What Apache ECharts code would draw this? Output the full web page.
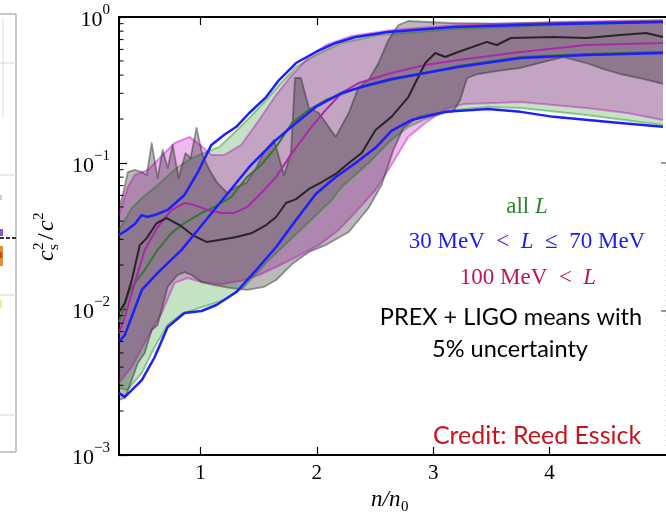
<!DOCTYPE html>
<html><head><meta charset="utf-8">
<script src="https://cdn.jsdelivr.net/npm/echarts@6/dist/echarts.min.js"></script>
<style>html,body{margin:0;padding:0;background:#fff}#c{width:666px;height:519px}</style>
</head><body><div id="c"></div>
<script>
// ---- axes ----
const xMin = 0.3, xMax = 5.0;
const yMin = 0.001, yMax = 1;
const xTickLabels = [1, 2, 3, 4];
const yMinorTicks = [0.002,0.003,0.004,0.005,0.006,0.007,0.008,0.009,
                     0.02,0.03,0.04,0.05,0.06,0.07,0.08,0.09,
                     0.2,0.3,0.4,0.5,0.6,0.7,0.8,0.9];

// ---- all L (green) ----
const greenUpper = [[0.3,0.0348],[0.41,0.0492],[0.496,0.0576],[0.632,0.0707],[0.795,0.0924],[0.923,0.108],[1.034,0.117],[1.162,0.129],[1.308,0.166],[1.436,0.21],[1.564,0.27],[1.692,0.353],[1.821,0.455],[1.991,0.549],[2.214,0.664],[2.53,0.753],[3.179,0.828],[4.034,0.881],[4.974,0.924]];
const greenMedian = [[0.3,0.00815],[0.393,0.0135],[0.521,0.0185],[0.632,0.0254],[0.752,0.0332],[0.863,0.0388],[1.009,0.0455],[1.12,0.05],[1.265,0.0585],[1.402,0.0802],[1.521,0.0969],[1.65,0.129],[1.786,0.188],[1.932,0.231],[2.077,0.27],[2.359,0.327],[2.641,0.37],[2.932,0.413],[3.214,0.462],[3.752,0.532],[4.316,0.558],[4.974,0.576]];
const greenLower = [[0.3,0.00288],[0.376,0.00279],[0.496,0.00365],[0.607,0.0055],[0.718,0.00777],[0.838,0.00925],[0.991,0.01016],[1.205,0.01153],[1.376,0.01416],[1.564,0.0207],[1.786,0.0306],[1.932,0.0394],[2.128,0.0558],[2.214,0.0685],[2.444,0.1],[2.641,0.144],[2.786,0.177],[2.932,0.2],[3.179,0.231],[3.47,0.242],[3.752,0.238],[4.316,0.213],[4.974,0.182]];

// ---- 30 MeV < L <= 70 MeV (blue) ----
const blueUpper = [[0.3,0.0321],[0.368,0.0348],[0.436,0.0382],[0.496,0.044],[0.538,0.0427],[0.607,0.044],[0.718,0.0477],[0.863,0.0604],[0.974,0.0855],[1.094,0.133],[1.205,0.156],[1.308,0.177],[1.419,0.22],[1.564,0.283],[1.675,0.37],[1.821,0.484],[1.991,0.576],[2.162,0.664],[2.333,0.73],[2.615,0.789],[3.179,0.855],[4.034,0.895],[4.974,0.924]];
const blueMedian = [[0.3,0.00594],[0.35,0.00664],[0.496,0.0135],[0.632,0.0177],[0.838,0.0254],[0.991,0.0359],[1.188,0.0558],[1.419,0.0939],[1.521,0.1135],[1.65,0.144],[1.821,0.188],[1.991,0.242],[2.214,0.302],[2.444,0.342],[2.641,0.376],[2.932,0.413],[3.214,0.455],[3.752,0.524],[4.316,0.549],[4.974,0.567]];
const blueLower = [[0.3,0.00266],[0.35,0.0025],[0.496,0.00326],[0.607,0.00469],[0.718,0.00753],[0.863,0.00939],[1.009,0.00969],[1.137,0.01065],[1.308,0.01306],[1.479,0.0185],[1.65,0.0266],[1.821,0.0407],[1.991,0.0613],[2.162,0.0802],[2.333,0.1],[2.504,0.127],[2.641,0.166],[2.812,0.197],[3.103,0.224],[3.47,0.234],[3.752,0.224],[4.034,0.207],[4.607,0.188],[4.974,0.177]];

// ---- 100 MeV < L (magenta) ----
const magentaUpper = [[0.3,0.044],[0.376,0.0685],[0.436,0.0827],[0.547,0.0896],[0.692,0.117],[0.778,0.137],[0.906,0.151],[1.017,0.129],[1.094,0.1135],[1.205,0.1135],[1.35,0.133],[1.504,0.197],[1.65,0.292],[1.786,0.401],[1.932,0.532],[2.077,0.643],[2.299,0.741],[2.641,0.815],[3.214,0.881],[4.034,0.924],[4.974,0.954]];
const magentaMedian = [[0.3,0.00685],[0.35,0.00881],[0.436,0.0151],[0.521,0.0254],[0.632,0.0364],[0.752,0.0477],[0.863,0.0532],[0.949,0.0515],[1.06,0.0477],[1.179,0.0455],[1.291,0.0455],[1.402,0.05],[1.547,0.0653],[1.65,0.0802],[1.786,0.117],[1.932,0.168],[2.077,0.231],[2.214,0.302],[2.359,0.353],[2.641,0.413],[2.932,0.469],[3.214,0.508],[3.752,0.576],[4.316,0.643],[4.974,0.664]];
const magentaLower = [[0.3,0.00311],[0.41,0.00401],[0.547,0.00643],[0.667,0.00939],[0.778,0.0151],[0.889,0.0163],[1.009,0.0153],[1.179,0.0148],[1.35,0.0156],[1.504,0.0171],[1.65,0.0194],[1.821,0.0227],[2.017,0.0274],[2.188,0.0348],[2.333,0.0461],[2.504,0.0653],[2.641,0.0969],[2.786,0.151],[2.932,0.188],[3.103,0.234],[3.265,0.254],[3.752,0.262],[4.316,0.238],[4.667,0.22],[4.974,0.197]];

// ---- PREX + LIGO (gray / black) ----
const grayUpper = [[0.3,0.05],[0.333,0.0604],[0.376,0.0867],[0.436,0.0896],[0.496,0.0867],[0.538,0.0827],[0.581,0.137],[0.632,0.0789],[0.675,0.123],[0.718,0.0924],[0.761,0.133],[0.812,0.0789],[0.872,0.117],[0.915,0.108],[0.966,0.174],[1.017,0.1135],[1.077,0.0896],[1.145,0.073],[1.231,0.0623],[1.308,0.0685],[1.393,0.073],[1.479,0.0924],[1.547,0.119],[1.632,0.144],[1.718,0.0827],[1.778,0.117],[1.812,0.382],[1.863,0.382],[1.932,0.238],[2.017,0.22],[2.162,0.151],[2.274,0.22],[2.359,0.332],[2.444,0.37],[2.53,0.484],[2.615,0.696],[2.701,0.881],[2.786,0.939],[2.957,0.924],[3.154,0.91],[3.556,0.9],[4.034,0.915],[4.974,0.945]];
const grayMedian = [[0.3,0.00953],[0.35,0.011],[0.41,0.0158],[0.479,0.0274],[0.538,0.0306],[0.624,0.0388],[0.709,0.042],[0.821,0.0376],[0.932,0.0321],[1.051,0.0288],[1.162,0.0297],[1.308,0.0311],[1.444,0.0332],[1.564,0.0376],[1.65,0.0427],[1.735,0.0532],[1.821,0.0566],[1.932,0.0664],[2.043,0.0741],[2.162,0.0841],[2.274,0.1],[2.385,0.117],[2.504,0.168],[2.641,0.207],[2.786,0.283],[2.932,0.484],[3.017,0.567],[3.103,0.532],[3.214,0.576],[3.462,0.675],[3.547,0.643],[3.667,0.718],[4.034,0.73],[4.316,0.718],[4.607,0.753],[4.829,0.777],[4.974,0.73]];
const grayLower = [[0.3,0.00238],[0.35,0.00246],[0.41,0.00326],[0.462,0.00427],[0.521,0.005],[0.581,0.00718],[0.632,0.00777],[0.718,0.0142],[0.803,0.0171],[0.863,0.0179],[0.923,0.0171],[1.009,0.0153],[1.12,0.0146],[1.265,0.0139],[1.402,0.0135],[1.547,0.0142],[1.65,0.0158],[1.786,0.0203],[1.932,0.0246],[2.077,0.0274],[2.274,0.0337],[2.444,0.0492],[2.556,0.0707],[2.658,0.123],[2.744,0.174],[2.872,0.207],[3.043,0.22],[3.171,0.224],[3.231,0.27],[3.291,0.382],[3.385,0.407],[3.556,0.427],[3.752,0.448],[3.949,0.492],[4.12,0.532],[4.316,0.484],[4.462,0.44],[4.607,0.407],[4.812,0.376],[4.974,0.348]];

// ---- annotations ----
const labelAllL = ['all ', 'L'];
const labelBlue = ['30 MeV  <  ', 'L', '  ≤  70 MeV'];
const labelMag = ['100 MeV  <  ', 'L'];
const noteLines = ['PREX + LIGO means with', '5% uncertainty'];
const creditText = 'Credit: Reed Essick';

const SERIF = '"Liberation Serif", "DejaVu Serif", serif';

function band(upper, lower, fill, z) {
  return {
    type: 'custom', coordinateSystem: 'cartesian2d', silent: true, z: z,
    data: [[upper[0][0], upper[0][1]]],
    renderItem: function (params, api) {
      const pts = upper.map(p => api.coord(p)).concat(lower.slice().reverse().map(p => api.coord(p)));
      return { type: 'polygon', shape: { points: pts }, style: { fill: fill, stroke: null } };
    }
  };
}
function line(data, color, width, z) {
  return { type: 'line', data: data, symbol: 'none', showSymbol: false, smooth: false, silent: true,
           lineStyle: { color: color, width: width, join: 'round' }, z: z };
}

const chart = echarts.init(document.getElementById('c'), null, { renderer: 'canvas' });

const axisLineStyle = { color: '#000', width: 2 };
const option = {
  animation: false,
  backgroundColor: '#fff',
  grid: { left: 119, right: -3, top: 17, bottom: 64, containLabel: false },
  xAxis: [
    { type: 'value', min: xMin, max: xMax, position: 'bottom',
      axisLine: { onZero: false, lineStyle: axisLineStyle },
      axisTick: { inside: true, length: 8, lineStyle: { color: '#000', width: 1.2 } },
      splitLine: { show: false },
      axisLabel: { margin: 8, color: '#000', fontFamily: SERIF, fontSize: 21, showMinLabel: false, showMaxLabel: false,
        formatter: v => xTickLabels.indexOf(v) >= 0 ? String(v) : '' } },
    { type: 'value', min: xMin, max: xMax, position: 'top',
      axisLine: { onZero: false, lineStyle: axisLineStyle },
      axisTick: { inside: true, length: 8, lineStyle: { color: '#000', width: 1.2 } },
      splitLine: { show: false }, axisLabel: { show: false } }
  ],
  yAxis: {
    type: 'log', logBase: 10, min: yMin, max: yMax,
    axisLine: { onZero: false, lineStyle: axisLineStyle },
    axisTick: { inside: true, length: 8, lineStyle: { color: '#000', width: 1.2 } },
    splitLine: { show: false },
    axisLabel: {
      margin: 9, color: '#000',
      formatter: v => { const e = Math.round(Math.log10(v)); return '{b|10}{s|' + (e < 0 ? '\u2212' + (-e) : e) + '}'; },
      rich: {
        b: { fontFamily: SERIF, fontSize: 22, lineHeight: 29, verticalAlign: 'bottom', color: '#000' },
        s: { fontFamily: SERIF, fontSize: 15, lineHeight: 15, verticalAlign: 'top', color: '#000' }
      }
    }
  },
  series: [
    band(greenUpper, greenLower, 'rgba(0,128,0,0.23)', 2),
    band(magentaUpper, magentaLower, 'rgba(191,0,191,0.27)', 3),
    band(grayUpper, grayLower, 'rgba(0,0,0,0.27)', 4),
    line(greenUpper, 'rgba(0,128,0,0.38)', 2, 5),
    line(greenLower, 'rgba(0,128,0,0.38)', 2, 5),
    line(magentaUpper, 'rgba(191,0,191,0.4)', 2, 5),
    line(magentaLower, 'rgba(191,0,191,0.4)', 2, 5),
    line(grayUpper, 'rgba(40,40,40,0.45)', 1.8, 5),
    line(grayLower, 'rgba(40,40,40,0.45)', 1.8, 5),
    line(greenMedian, 'rgb(50,120,50)', 2, 6),
    line(magentaMedian, 'rgb(170,40,170)', 2, 6),
    line(grayMedian, 'rgb(40,35,40)', 2, 6),
    line(blueUpper, 'rgb(30,30,255)', 2.5, 7),
    line(blueMedian, 'rgb(30,30,255)', 2.5, 7),
    line(blueLower, 'rgb(30,30,255)', 2.5, 7),
    { type: 'custom', coordinateSystem: 'cartesian2d', silent: true, z: 8,
      data: yMinorTicks.map(v => [xMin, v]),
      renderItem: function (params, api) {
        const p = api.coord([api.value(0), api.value(1)]);
        return { type: 'line', shape: { x1: p[0], y1: p[1], x2: p[0] + 4.5, y2: p[1] }, style: { stroke: '#000', lineWidth: 1 } };
      } }
  ],
  graphic: [
    // neighbouring panel fragment on the left
    { type: 'line', shape: { x1: 16, y1: 14, x2: 16, y2: 452 }, style: { stroke: '#b4b4b4', lineWidth: 1.5 } },
    { type: 'line', shape: { x1: 0, y1: 14, x2: 16, y2: 14 }, style: { stroke: '#b4b4b4', lineWidth: 1.5 } },
    { type: 'line', shape: { x1: 0, y1: 452, x2: 16, y2: 452 }, style: { stroke: '#b4b4b4', lineWidth: 1.5 } },
    { type: 'line', shape: { x1: 0, y1: 63, x2: 16, y2: 63 }, style: { stroke: '#d4d4d4', lineWidth: 1 } },
    { type: 'line', shape: { x1: 0, y1: 175, x2: 16, y2: 175 }, style: { stroke: '#d4d4d4', lineWidth: 1 } },
    { type: 'line', shape: { x1: 0, y1: 295, x2: 16, y2: 295 }, style: { stroke: '#d4d4d4', lineWidth: 1 } },
    { type: 'line', shape: { x1: 0, y1: 415, x2: 16, y2: 415 }, style: { stroke: '#d4d4d4', lineWidth: 1 } },
    { type: 'line', shape: { x1: 3, y1: 18, x2: 3, y2: 118 }, style: { stroke: '#dddddd', lineWidth: 1 } },
    { type: 'line', shape: { x1: 0, y1: 238, x2: 16, y2: 238 }, style: { stroke: '#333', lineWidth: 2, lineDash: [4, 2] } },
    { type: 'rect', shape: { x: 0, y: 195, width: 2, height: 5 }, style: { fill: '#e8b8e8' } },
    { type: 'rect', shape: { x: 0, y: 229, width: 3, height: 7 }, style: { fill: '#8a5ac8' } },
    { type: 'rect', shape: { x: 0, y: 246, width: 3, height: 20 }, style: { fill: '#e0902a' } },
    { type: 'rect', shape: { x: 0, y: 252, width: 2, height: 6 }, style: { fill: '#c84030' } },
    { type: 'rect', shape: { x: 0, y: 300, width: 2, height: 8 }, style: { fill: '#f0e8a0' } },
    // neighbouring panel fragment on the right
    { type: 'line', shape: { x1: 665, y1: 165, x2: 665, y2: 450 }, style: { stroke: '#d0d0d0', lineWidth: 1, lineDash: [1, 4] } },
    { type: 'line', shape: { x1: 661, y1: 163, x2: 666, y2: 163 }, style: { stroke: '#555', lineWidth: 1.2 } },
    { type: 'line', shape: { x1: 661, y1: 311, x2: 666, y2: 311 }, style: { stroke: '#555', lineWidth: 1.2 } },
    // y axis title c_s^2 / c^2 (rotated)
    { type: 'group', x: 47, y: 236, rotation: Math.PI / 2, children: [
      { type: 'text', style: { text: 'c', x: -25, y: 0, font: 'italic 24px ' + SERIF, fill: '#000', align: 'left', verticalAlign: 'middle' } },
      { type: 'text', style: { text: '2', x: -14, y: -8, font: '15px ' + SERIF, fill: '#000', align: 'left', verticalAlign: 'middle' } },
      { type: 'text', style: { text: 's', x: -14, y: 7, font: '15px ' + SERIF, fill: '#000', align: 'left', verticalAlign: 'middle' } },
      { type: 'text', style: { text: '/', x: -4, y: 0, font: '24px ' + SERIF, fill: '#000', align: 'left', verticalAlign: 'middle' } },
      { type: 'text', style: { text: 'c', x: 5, y: 0, font: 'italic 24px ' + SERIF, fill: '#000', align: 'left', verticalAlign: 'middle' } },
      { type: 'text', style: { text: '2', x: 16, y: -8, font: '15px ' + SERIF, fill: '#000', align: 'left', verticalAlign: 'middle' } }
    ] },
    // x axis title n/n_0
    { type: 'group', x: 393, y: 500, children: [
      { type: 'text', style: { text: 'n/n', x: -22, y: 0, font: 'italic 23px ' + SERIF, fill: '#000', align: 'left', verticalAlign: 'middle' } },
      { type: 'text', style: { text: '0', x: 8, y: 7, font: '15px ' + SERIF, fill: '#000', align: 'left', verticalAlign: 'middle' } }
    ] },
    // legend-like annotations
    { type: 'text', style: { x: 527, y: 207, align: 'center', verticalAlign: 'middle',
      text: '{r|' + labelAllL[0] + '}{i|' + labelAllL[1] + '}',
      rich: { r: { fontFamily: SERIF, fontSize: 23, fill: '#2e862e' }, i: { fontFamily: SERIF, fontStyle: 'italic', fontSize: 23, fill: '#2e862e' } } } },
    { type: 'text', style: { x: 527, y: 242, align: 'center', verticalAlign: 'middle',
      text: '{r|' + labelBlue[0] + '}{i|' + labelBlue[1] + '}{r|' + labelBlue[2] + '}',
      rich: { r: { fontFamily: SERIF, fontSize: 23, fill: '#1a1aff' }, i: { fontFamily: SERIF, fontStyle: 'italic', fontSize: 23, fill: '#1a1aff' } } } },
    { type: 'text', style: { x: 528, y: 278, align: 'center', verticalAlign: 'middle',
      text: '{r|' + labelMag[0] + '}{i|' + labelMag[1] + '}',
      rich: { r: { fontFamily: SERIF, fontSize: 23, fill: '#c0145a' }, i: { fontFamily: SERIF, fontStyle: 'italic', fontSize: 23, fill: '#c0145a' } } } },
    { type: 'text', style: { x: 511, y: 317, align: 'center', verticalAlign: 'middle', text: noteLines[0], font: '23.5px Lato', fill: '#000' } },
    { type: 'text', style: { x: 510, y: 349, align: 'center', verticalAlign: 'middle', text: noteLines[1], font: '23.5px Lato', fill: '#000' } },
    { type: 'text', style: { x: 537, y: 436, align: 'center', verticalAlign: 'middle', text: creditText, font: '25px Lato', fill: '#c8141e' } }
  ]
};
chart.setOption(option);
</script>
</body></html>
